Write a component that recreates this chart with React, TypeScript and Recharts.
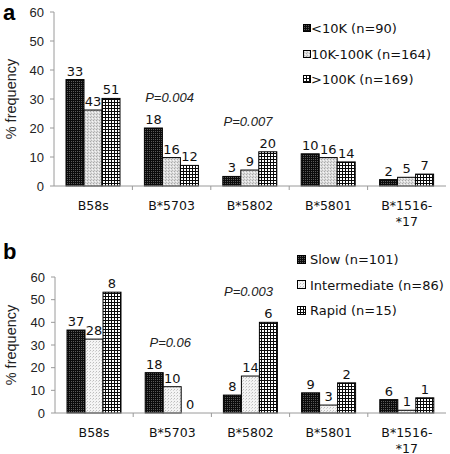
import React from 'react';
import { BarChart, Bar, XAxis, YAxis, LabelList, ReferenceDot } from 'recharts';

const categories = ['B58s', 'B*5703', 'B*5802', 'B*5801', 'B*1516-*17'];
const categoryLines = [['B58s'], ['B*5703'], ['B*5802'], ['B*5801'], ['B*1516-', '*17']];
const yTicks = [0, 10, 20, 30, 40, 50, 60];

// panel a: viral load groups
const aSeriesNames = ['<10K (n=90)', '10K-100K (n=164)', '>100K (n=169)'];
const aLowPct = [36.7, 20.0, 3.3, 11.1, 2.2];
const aMidPct = [26.2, 9.8, 5.5, 9.8, 3.0];
const aHighPct = [30.2, 7.1, 11.8, 8.3, 4.1];
const aLowN = [33, 18, 3, 10, 2];
const aMidN = [43, 16, 9, 16, 5];
const aHighN = [51, 12, 20, 14, 7];
const aPValues = ['', 'P=0.004', 'P=0.007', '', ''];

// panel b: progression groups
const bSeriesNames = ['Slow (n=101)', 'Intermediate (n=86)', 'Rapid (n=15)'];
const bSlowPct = [36.6, 17.8, 7.9, 8.9, 5.9];
const bIntPct = [32.6, 11.6, 16.3, 3.5, 1.2];
const bRapidPct = [53.3, 0, 40.0, 13.3, 6.7];
const bSlowN = [37, 18, 8, 9, 6];
const bIntN = [28, 10, 14, 3, 1];
const bRapidN = [8, 0, 6, 2, 1];
const bPValues = ['', 'P=0.06', 'P=0.003', '', ''];

const build = (s0: number[], s1: number[], s2: number[], n0: number[], n1: number[], n2: number[], p: string[]) =>
  categories.map((cat, i) => ({
    cat,
    s0: s0[i],
    s1: s1[i],
    s2: s2[i],
    n0: n0[i],
    n1: n1[i],
    n2: n2[i],
    p: p[i],
    pMax: Math.max(s0[i], s1[i], s2[i]),
  }));

const dataA = build(aLowPct, aMidPct, aHighPct, aLowN, aMidN, aHighN, aPValues);
const dataB = build(bSlowPct, bIntPct, bRapidPct, bSlowN, bIntN, bRapidN, bPValues);

const VERDANA = '"DejaVu Sans", Verdana, sans-serif';
const ARIAL = '"Liberation Sans", Arial, sans-serif';
const AXIS = '#9a9a9a';

const Patterns = () => (
  <defs>
    <pattern id="patDark" width="2" height="2" patternUnits="userSpaceOnUse">
      <rect width="2" height="2" fill="#0c0c0c" />
      <rect x="1" y="1" width="1" height="1" fill="#5a5a5a" />
    </pattern>
    <pattern id="patGray" width="3" height="3" patternUnits="userSpaceOnUse">
      <rect width="3" height="3" fill="#dcdcdc" />
      <rect x="0" y="0" width="1" height="1" fill="#a8a8a8" />
      <rect x="2" y="1" width="1" height="1" fill="#f6f6f6" />
      <rect x="1" y="2" width="1" height="1" fill="#b8b8b8" />
    </pattern>
    <pattern id="patLight" width="3" height="3" patternUnits="userSpaceOnUse">
      <rect width="3" height="3" fill="#f4f4f4" />
      <rect x="0" y="0" width="1" height="1" fill="#bdbdbd" />
      <rect x="2" y="1" width="1" height="1" fill="#d4d4d4" />
    </pattern>
    <pattern id="patCheck" width="3" height="3" patternUnits="userSpaceOnUse">
      <rect width="3" height="3" fill="#0a0a0a" />
      <rect x="1" y="1" width="2" height="2" fill="#ffffff" />
    </pattern>
  </defs>
);

const BarShape = (props: any) => {
  const { x, y, width, height, fill } = props;
  if (!height || Math.abs(height) < 0.5) return <g />;
  return <rect x={x} y={y} width={width} height={height} fill={fill} stroke="#000" strokeWidth={1} />;
};

const makeTick = (plotW: number) => (props: any) => {
  const { x, y, index } = props;
  const lines = categoryLines[index] ?? [String(props.payload?.value ?? '')];
  const half = plotW / categories.length / 2;
  return (
    <g>
      {index < categories.length - 1 && (
        <line x1={x + half} y1={y} x2={x + half} y2={y + 4} stroke={AXIS} strokeWidth={1} />
      )}
      {lines.map((ln: string, k: number) => (
        <text
          key={k}
          x={x}
          y={y + 23.5 + k * 16}
          textAnchor="middle"
          fontFamily={VERDANA}
          fontSize={12.5}
          fill="#111"
        >
          {ln}
        </text>
      ))}
    </g>
  );
};

const YLabel = (props: any) => {
  const vb = props.viewBox || { x: 0, y: 0, width: 0, height: 0 };
  const cx = vb.x + 11;
  const cy = vb.y + vb.height / 2;
  return (
    <text
      x={cx}
      y={cy}
      transform={`rotate(-90 ${cx} ${cy})`}
      textAnchor="middle"
      dominantBaseline="central"
      fontFamily={ARIAL}
      fontSize={14.5}
      fill="#222"
    >
      % frequency
    </text>
  );
};

const LegendBox = ({ names, fills, left, top, textLeft, iconSize }: any) => (
  <div style={{ position: 'absolute', left, top, width: 170 }}>
    {names.map((nm: string, i: number) => (
      <div key={nm} style={{ position: 'relative', height: 25.5 }}>
        <svg
          width={iconSize + 2}
          height={iconSize + 2}
          style={{ position: 'absolute', left: 0, top: 12.75 - (iconSize + 2) / 2 }}
        >
          <Patterns />
          <rect x={0.5} y={0.5} width={iconSize} height={iconSize} fill={fills[i]} stroke="#000" strokeWidth={1} />
        </svg>
        <span
          style={{
            position: 'absolute',
            left: textLeft,
            top: 0,
            lineHeight: '25.5px',
            fontFamily: VERDANA,
            fontSize: 13,
            color: '#111',
            whiteSpace: 'nowrap',
          }}
        >
          {nm}
        </span>
      </div>
    ))}
  </div>
);

const PLabel = (p: string) => (props: any) => {
  const vb = props.viewBox || { x: 0, y: 0, width: 0, height: 0 };
  const cx = vb.x + (vb.width || 0) / 2;
  const cy = vb.y + (vb.height || 0) / 2;
  return (
    <text x={cx - 2} y={cy - 26} textAnchor="middle" fontFamily={ARIAL} fontStyle="italic" fontSize={13} fill="#222">
      {p}
    </text>
  );
};

const labelStyle = { fontFamily: VERDANA, fontSize: 13, fill: '#111' };

const Panel = ({ data, height, marginTop, marginBottom, yWidth, fills, names }: any) => {
  const plotW = 450 - yWidth - 4;
  return (
    <BarChart
      width={450}
      height={height}
      data={data}
      margin={{ top: marginTop, right: 4, left: 0, bottom: marginBottom }}
      barGap={0}
      barSize={18}
    >
      <Patterns />
      <XAxis
        dataKey="cat"
        height={40}
        axisLine={{ stroke: AXIS }}
        tickLine={false}
        tickSize={0}
        tickMargin={0}
        interval={0}
        tick={makeTick(plotW)}
      />
      <YAxis
        width={yWidth}
        domain={[0, 60]}
        ticks={yTicks}
        interval={0}
        axisLine={{ stroke: AXIS }}
        tickLine={{ stroke: AXIS }}
        tickSize={4}
        tickMargin={6}
        tick={{ fontFamily: ARIAL, fontSize: 13, fill: '#222' }}
        label={<YLabel />}
      />
      {['s0', 's1', 's2'].map((k, i) => (
        <Bar
          key={k}
          dataKey={k}
          name={names[i]}
          fill={fills[i]}
          stroke="#000"
          strokeWidth={1}
          minPointSize={0.01}
          shape={BarShape}
          isAnimationActive={false}
        >
          <LabelList dataKey={`n${i}`} position="top" offset={4} style={labelStyle} />
        </Bar>
      ))}
      {data
        .filter((d: any) => d.p)
        .map((d: any) => (
          <ReferenceDot
            key={d.cat}
            x={d.cat}
            y={d.pMax}
            r={1}
            fill="none"
            stroke="none"
            label={PLabel(d.p)}
          />
        ))}
    </BarChart>
  );
};

const fillsA = ['url(#patDark)', 'url(#patGray)', 'url(#patCheck)'];
const fillsB = ['url(#patDark)', 'url(#patLight)', 'url(#patCheck)'];

export default function App() {
  return (
    <div style={{ position: 'absolute', left: 0, top: 0, width: 450, height: 454, background: '#fff' }}>
      <div style={{ position: 'absolute', left: 0, top: 0 }}>
        <Panel data={dataA} height={230} marginTop={12} marginBottom={4} yWidth={54} fills={fillsA} names={aSeriesNames} />
      </div>
      <div style={{ position: 'absolute', left: 0, top: 230 }}>
        <Panel data={dataB} height={224} marginTop={47} marginBottom={1} yWidth={55} fills={fillsB} names={bSeriesNames} />
      </div>
      <LegendBox names={aSeriesNames} fills={fillsA} left={303} top={16} textLeft={8} iconSize={7} />
      <LegendBox names={bSeriesNames} fills={fillsB} left={297} top={247} textLeft={13} iconSize={8} />
      <div
        style={{
          position: 'absolute',
          left: 3,
          top: 1,
          fontFamily: ARIAL,
          fontWeight: 'bold',
          fontSize: 22,
          lineHeight: '24px',
          color: '#000',
        }}
      >
        a
      </div>
      <div
        style={{
          position: 'absolute',
          left: 3,
          top: 240,
          fontFamily: ARIAL,
          fontWeight: 'bold',
          fontSize: 22,
          lineHeight: '24px',
          color: '#000',
        }}
      >
        b
      </div>
    </div>
  );
}
